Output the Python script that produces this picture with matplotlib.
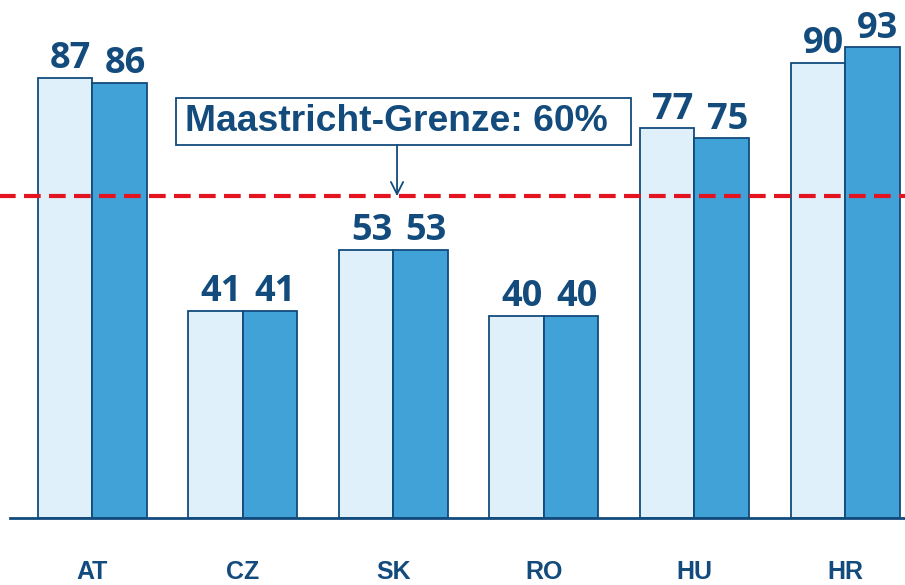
import matplotlib
matplotlib.use("Agg")
import matplotlib.pyplot as plt
from matplotlib.patches import Rectangle
import numpy as np

# data
countries = ["AT", "CZ", "SK", "RO", "HU", "HR"]
values_a = [87, 41, 53, 40, 77, 90]   # light bars
values_b = [86, 41, 53, 40, 75, 93]   # dark bars
limit_text = "Maastricht-Grenze: 60%"
limit_level = 63.6  # where the red line sits in the original picture

navy = "#124b7c"
light = "#dff0fb"
mid = "#40a2d7"
red = "#e3141f"

fig = plt.figure(figsize=(9.05, 5.85), dpi=100)
ax = fig.add_axes([10 / 905, 67 / 585, 895 / 905, 506 / 585])

x = np.arange(len(countries))
w = 0.362
ax.bar(x - w / 2, values_a, w, color=light, edgecolor=navy, linewidth=1.3, zorder=2)
ax.bar(x + w / 2, values_b, w, color=mid, edgecolor=navy, linewidth=1.3, zorder=2)

for xi, va_, vb_ in zip(x, values_a, values_b):
    for xx, v in ((xi - w / 2, va_), (xi + w / 2, vb_)):
        ax.annotate(str(v), (xx, v), xytext=(4, 7), textcoords="offset points",
                    ha="center", va="baseline", fontsize=26, fontweight="bold",
                    color=navy, family=["Open Sans", "DejaVu Sans"])

ax.set_xlim(-0.545, 5.398)
ax.set_ylim(0, 100)

# red limit line
ax.axhline(limit_level, xmin=-0.02, xmax=1.0, color=red, lw=3,
           dashes=(4, 2), clip_on=False, zorder=3)

# label box + arrow
ax.add_patch(Rectangle((0.558, 73.7), 3.579 - 0.558, 83.0 - 73.7, fc="white",
                       ec=navy, lw=1.3, zorder=4))
ax.text(0.618, 78.4, limit_text, ha="left", va="center", fontsize=26.8,
        fontweight="bold", color=navy, family=["Liberation Sans", "DejaVu Sans"],
        zorder=5)
ax.annotate("", xy=(2.025, limit_level), xytext=(2.025, 73.7),
            arrowprops=dict(arrowstyle="->", color=navy, lw=1.3,
                            mutation_scale=22, shrinkA=0, shrinkB=0), zorder=4)

for s in ["top", "right", "left"]:
    ax.spines[s].set_visible(False)
ax.spines["bottom"].set_color(navy)
ax.spines["bottom"].set_linewidth(2)
ax.set_yticks([])
ax.set_xticks(x)
ax.set_xticklabels(countries, fontsize=18, fontweight="bold", color=navy,
                   family=["Liberation Sans", "DejaVu Sans"])
ax.tick_params(axis="x", length=0, pad=30)

fig.savefig("out.png", dpi=100)
